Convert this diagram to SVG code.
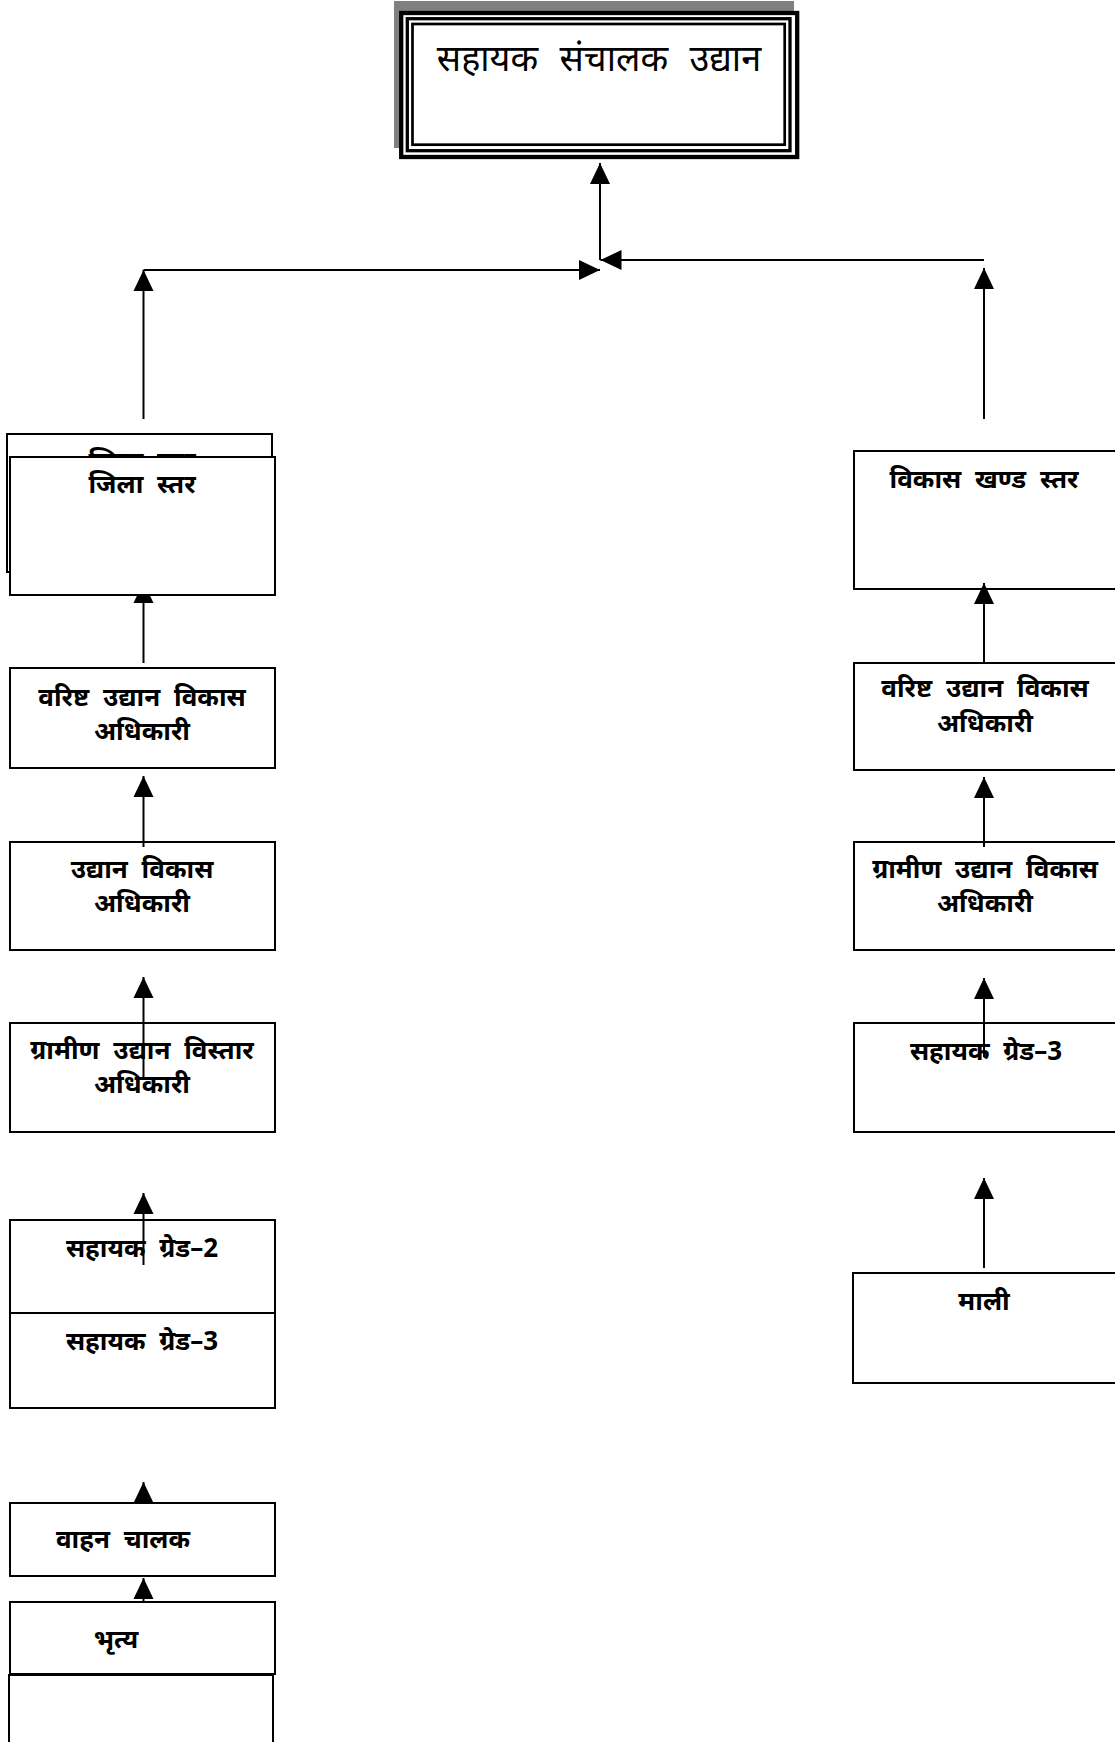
<svg xmlns="http://www.w3.org/2000/svg" width="1115" height="1742" viewBox="0 0 1115 1742">
<style>
.box{fill:#fff;stroke:#000;stroke-width:2}
.lbl{font-family:"Noto Sans","Liberation Sans",sans-serif;font-size:26px;font-weight:bold;word-spacing:7px;fill:#000;text-anchor:middle}
.title{font-family:"Noto Sans","Liberation Sans",sans-serif;font-size:36px;word-spacing:12px;fill:#000;text-anchor:middle}
.con{stroke:#000;stroke-width:2;fill:none}
</style>
<defs>
<marker id="ah" markerUnits="userSpaceOnUse" markerWidth="22" markerHeight="22" refX="21" refY="10" orient="auto" viewBox="0 0 22 20">
<path d="M0,0 L21,10 L0,20 Z" fill="#000"/>
</marker>
</defs>
<rect width="1115" height="1742" fill="#fff"/>

<g id="node-top">
<rect x="394" y="1" width="400" height="147" fill="#808080"/>
<rect x="401.2" y="13" width="396" height="144" fill="#fff" stroke="#000" stroke-width="4.3"/>
<rect x="407.3" y="18.7" width="382.7" height="132" fill="none" stroke="#000" stroke-width="3.3"/>
<rect x="412.5" y="24" width="372.2" height="120.7" fill="none" stroke="#000" stroke-width="2.7"/>
<text class="title" x="599" y="71">सहायक संचालक उद्यान</text>
</g>

<g id="node-varishth-left">
<rect class="box" x="10" y="668" width="265" height="100"/>
<text class="lbl" x="142" y="706">वरिष्ट उद्यान विकास</text>
<text class="lbl" x="142" y="740">अधिकारी</text>
</g>
<g id="node-udyan-vikas">
<rect class="box" x="10" y="842" width="265" height="108"/>
<text class="lbl" x="142" y="878">उद्यान विकास</text>
<text class="lbl" x="142" y="912">अधिकारी</text>
</g>
<g id="node-gramin-vistar">
<rect class="box" x="10" y="1023" width="265" height="109"/>
<text class="lbl" x="142" y="1059">ग्रामीण उद्यान विस्तार</text>
<text class="lbl" x="142" y="1093">अधिकारी</text>
</g>
<g id="node-grade2">
<rect class="box" x="10" y="1220" width="265" height="100"/>
<text class="lbl" x="142" y="1257">सहायक ग्रेड–2</text>
</g>
<g id="node-grade3-left">
<rect class="box" x="10" y="1313" width="265" height="95"/>
<text class="lbl" x="142" y="1350">सहायक ग्रेड–3</text>
</g>
<g id="node-vahan">
<rect class="box" x="10" y="1503" width="265" height="73"/>
<text class="lbl" x="123" y="1548">वाहन चालक</text>
</g>
<g id="node-bhritya">
<rect class="box" x="10" y="1602" width="265" height="72"/>
<text class="lbl" x="116" y="1648">भृत्य</text>
</g>
<g id="node-empty">
<rect class="box" x="9" y="1675" width="264" height="80"/>
</g>

<g id="node-vikas-khand">
<rect class="box" x="854" y="451" width="270" height="138"/>
<text class="lbl" x="984" y="488">विकास खण्ड स्तर</text>
</g>
<g id="node-varishth-right">
<rect class="box" x="854" y="663" width="270" height="107"/>
<text class="lbl" x="985" y="697">वरिष्ट उद्यान विकास</text>
<text class="lbl" x="985" y="732">अधिकारी</text>
</g>
<g id="node-gramin-vikas">
<rect class="box" x="854" y="842" width="270" height="108"/>
<text class="lbl" x="985" y="878">ग्रामीण उद्यान विकास</text>
<text class="lbl" x="985" y="912">अधिकारी</text>
</g>
<g id="node-grade3-right">
<rect class="box" x="854" y="1023" width="270" height="109"/>
<text class="lbl" x="986" y="1060">सहायक ग्रेड–3</text>
</g>
<g id="node-mali">
<rect class="box" x="853" y="1273" width="270" height="110"/>
<text class="lbl" x="984" y="1310">माली</text>
</g>

<g id="connectors">
<line class="con" x1="600" y1="260" x2="600" y2="163" marker-end="url(#ah)"/>
<line class="con" x1="984" y1="260" x2="600.5" y2="260" marker-end="url(#ah)"/>
<line class="con" x1="984" y1="419" x2="984" y2="268" marker-end="url(#ah)"/>
<line class="con" x1="143.5" y1="419" x2="143.5" y2="270" marker-end="url(#ah)"/>
<line class="con" x1="143.5" y1="270" x2="600" y2="270" marker-end="url(#ah)"/>
<line class="con" x1="143.5" y1="663" x2="143.5" y2="582" marker-end="url(#ah)"/>
<line class="con" x1="143.5" y1="847" x2="143.5" y2="776" marker-end="url(#ah)"/>
<line class="con" x1="143.5" y1="1077" x2="143.5" y2="977" marker-end="url(#ah)"/>
<line class="con" x1="143.5" y1="1265" x2="143.5" y2="1193" marker-end="url(#ah)"/>
<line class="con" x1="143.5" y1="1503" x2="143.5" y2="1482" marker-end="url(#ah)"/>
<line class="con" x1="143.5" y1="1602" x2="143.5" y2="1578" marker-end="url(#ah)"/>
<line class="con" x1="984" y1="663" x2="984" y2="583" marker-end="url(#ah)"/>
<line class="con" x1="984" y1="847" x2="984" y2="777" marker-end="url(#ah)"/>
<line class="con" x1="984" y1="1057" x2="984" y2="978" marker-end="url(#ah)"/>
<line class="con" x1="984" y1="1268" x2="984" y2="1178" marker-end="url(#ah)"/>
</g>

<g id="node-zila-back">
<rect class="box" x="7" y="434" width="265" height="138"/>
<text class="lbl" x="142" y="470">जिला स्तर</text>
</g>
<g id="node-zila-front">
<rect class="box" x="10" y="457" width="265" height="138"/>
<text class="lbl" x="142" y="493">जिला स्तर</text>
</g>
</svg>
